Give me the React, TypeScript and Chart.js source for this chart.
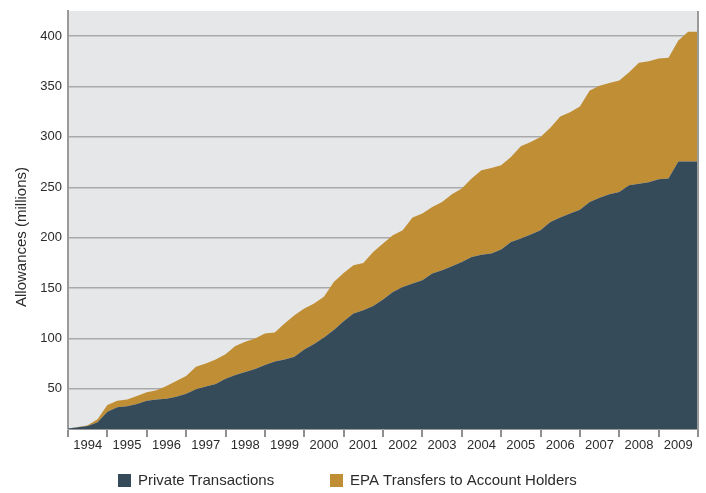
import React, { useEffect, useRef } from 'react';
import { Chart, registerables } from 'chart.js';

Chart.register(...registerables);

// Year tick labels along the bottom axis
const years = [
  '1994', '1995', '1996', '1997', '1998', '1999', '2000', '2001',
  '2002', '2003', '2004', '2005', '2006', '2007', '2008', '2009',
];

// Quarterly observation points (start of each quarter), through the start of 2010
const quarterLabels = [
  ...years.flatMap((y) => ['Q1', 'Q2', 'Q3', 'Q4'].map((q) => `${y} ${q}`)),
  '2010 Q1',
];

// Cumulative allowances transferred in private transactions (millions)
const privateTransactions = [
  10.5, 11.7, 13.0, 16.6, 27.2, 31.5, 32.5, 34.8,
  38.0, 39.4, 40.0, 42.0, 45.0, 49.4, 52.3, 54.6,
  59.9, 63.5, 66.5, 69.5, 73.5, 77.1, 79.1, 81.7,
  89.0, 94.3, 100.9, 108.2, 117.0, 124.7, 128.0, 132.0,
  138.6, 146.1, 151.1, 154.5, 157.7, 164.4, 167.7, 171.6,
  175.9, 180.8, 183.0, 184.2, 188.2, 195.7, 199.1, 203.0,
  207.3, 215.5, 219.9, 223.9, 227.8, 235.4, 239.5, 243.0,
  245.3, 251.9, 253.6, 254.9, 257.9, 258.6, 275.5, 275.5,
  275.5,
];

// Cumulative EPA transfers to account holders (millions), stacked on top
const epaTransfers = [
  0.0, 0.3, 0.7, 3.0, 6.6, 6.5, 6.9, 7.9,
  8.4, 9.0, 12.6, 15.6, 17.5, 22.4, 22.8, 24.4,
  24.4, 28.8, 30.1, 30.4, 31.3, 28.8, 35.7, 41.3,
  40.7, 40.3, 40.3, 47.8, 48.0, 47.9, 46.9, 53.8,
  55.5, 56.3, 56.2, 65.4, 66.2, 66.0, 67.7, 71.4,
  72.8, 77.8, 83.8, 84.9, 83.6, 84.3, 91.5, 91.9,
  92.5, 93.5, 100.4, 100.7, 102.4, 110.7, 111.2, 110.4,
  110.7, 112.4, 120.0, 120.3, 120.0, 119.9, 120.2, 129.0,
  129.0,
];

// Labelled value ticks on the allowance axis
const yTicks = [50, 100, 150, 200, 250, 300, 350, 400];

const PRIVATE_COLOR = '#364b5a';
const EPA_COLOR = '#c08f35';
const PLOT_BG = '#e6e7e9';
const GRID_COLOR = '#a9a9aa';
const TEXT_COLOR = '#2b2b2b';
const TICK_FONT = "'Liberation Sans', Arial, sans-serif";
const REGULAR_FONT = "'Liberation Sans', Arial, sans-serif";

const plotBackground = {
  id: 'plotBackground',
  beforeDraw(chart: any) {
    const { ctx, chartArea } = chart;
    ctx.save();
    ctx.fillStyle = PLOT_BG;
    ctx.fillRect(chartArea.left, chartArea.top, chartArea.right - chartArea.left, chartArea.bottom - chartArea.top);
    ctx.restore();
  },
};

const annotations = {
  id: 'annotations',
  afterDraw(chart: any) {
    const { ctx, chartArea } = chart;
    ctx.save();

    // right-hand frame line
    ctx.strokeStyle = '#9a9a9a';
    ctx.lineWidth = 2;
    ctx.beginPath();
    ctx.moveTo(chartArea.right, chartArea.top);
    ctx.lineTo(chartArea.right, chartArea.bottom);
    ctx.stroke();

    // axis title
    ctx.fillStyle = TEXT_COLOR;
    ctx.font = `15px ${REGULAR_FONT}`;
    ctx.textAlign = 'center';
    ctx.textBaseline = 'middle';
    ctx.translate(22, 237);
    ctx.rotate(-Math.PI / 2);
    ctx.fillText('Allowances (millions)', 0, 0);
    ctx.setTransform(1, 0, 0, 1, 0, 0);

    // legend
    const items = chart.data.datasets.map((ds: any) => ({ label: ds.label, color: ds.backgroundColor }));
    const starts = [118, 330];
    ctx.font = `15px ${REGULAR_FONT}`;
    ctx.textAlign = 'left';
    ctx.textBaseline = 'middle';
    items.forEach((item: any, i: number) => {
      const x = starts[i];
      ctx.fillStyle = item.color;
      ctx.fillRect(x, 474, 13, 13);
      ctx.fillStyle = TEXT_COLOR;
      ctx.fillText(item.label, x + 20, 481);
    });
    ctx.restore();
  },
};

export default function App() {
  const canvasRef = useRef<HTMLCanvasElement | null>(null);

  useEffect(() => {
    if (!canvasRef.current) return;
    const chart = new Chart(canvasRef.current, {
      type: 'line',
      data: {
        labels: quarterLabels,
        datasets: [
          {
            label: 'Private Transactions',
            data: privateTransactions,
            backgroundColor: PRIVATE_COLOR,
            borderColor: PRIVATE_COLOR,
            borderWidth: 0,
            pointRadius: 0,
            fill: 'origin',
            tension: 0,
          },
          {
            label: 'EPA Transfers to Account Holders',
            data: epaTransfers,
            backgroundColor: EPA_COLOR,
            borderColor: EPA_COLOR,
            borderWidth: 0,
            pointRadius: 0,
            fill: '-1',
            tension: 0,
          },
        ],
      },
      options: {
        responsive: false,
        animation: false,
        layout: { padding: { top: 11, right: 8, left: 0, bottom: 0 } },
        plugins: {
          legend: { display: false },
          tooltip: { enabled: false },
        },
        scales: {
          x: {
            type: 'category',
            offset: false,
            grid: {
              display: true,
              drawOnChartArea: false,
              drawTicks: true,
              tickLength: 8,
              lineWidth: 2,
              color: (ctx: any) => (ctx.index % 4 === 0 ? '#8f8f8f' : 'rgba(0,0,0,0)'),
            },
            border: { display: true, color: '#9a9a9a', width: 1 },
            ticks: {
              autoSkip: false,
              maxRotation: 0,
              minRotation: 0,
              padding: 1,
              color: TEXT_COLOR,
              font: { family: TICK_FONT, size: 13 },
              callback: (_v: any, i: number) => (i % 4 === 2 ? years[Math.floor(i / 4)] : ''),
            },
            afterFit: (scale: any) => {
              scale.height = 64;
            },
          },
          y: {
            type: 'linear',
            stacked: true,
            min: 10,
            max: 425,
            grid: {
              display: true,
              drawTicks: true,
              tickLength: 6,
              tickColor: 'rgba(0,0,0,0)',
              color: GRID_COLOR,
              lineWidth: 1.5,
            },
            border: { display: true, color: '#9a9a9a', width: 2 },
            ticks: {
              padding: 0,
              color: TEXT_COLOR,
              font: { family: TICK_FONT, size: 13, lineHeight: 1 },
            },
            afterBuildTicks: (scale: any) => {
              scale.ticks = yTicks.map((v) => ({ value: v }));
            },
            afterFit: (scale: any) => {
              scale.width = 68;
            },
          },
        },
      },
      plugins: [plotBackground, annotations],
    });
    return () => chart.destroy();
  }, []);

  return (
    <div style={{ position: 'absolute', left: 0, top: 0, width: 706, height: 493, background: '#ffffff' }}>
      <canvas ref={canvasRef} width={706} height={493} style={{ display: 'block' }} />
    </div>
  );
}
